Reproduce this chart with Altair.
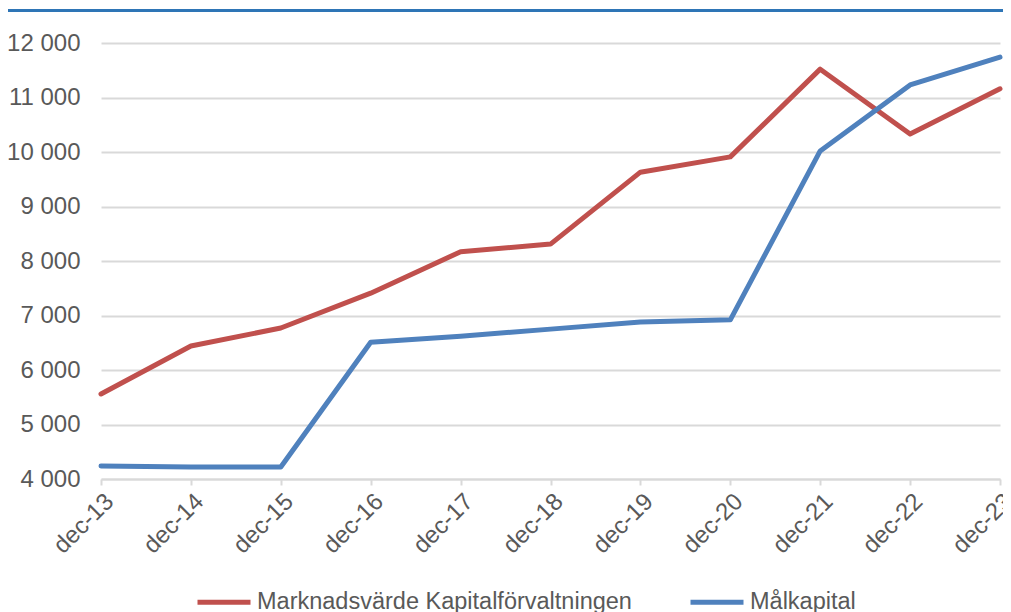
import altair as alt
import pandas as pd

years = ["dec-13", "dec-14", "dec-15", "dec-16", "dec-17", "dec-18",
         "dec-19", "dec-20", "dec-21", "dec-22", "dec-23"]
marknadsvarde = [5560, 6440, 6770, 7410, 8170, 8310, 9630, 9910, 11520, 10330, 11160]
malkapital = [4240, 4220, 4220, 6510, 6620, 6750, 6880, 6920, 10020, 11230, 11740]
series_names = ["Marknadsvärde Kapitalförvaltningen", "Målkapital"]
series_colors = ["#C0504D", "#4F81BD"]
y_ticks = [4000, 5000, 6000, 7000, 8000, 9000, 10000, 11000, 12000]

rows = []
for name, vals in zip(series_names, [marknadsvarde, malkapital]):
    for yr, v in zip(years, vals):
        rows.append({"period": yr, "value": v, "serie": name})
df = pd.DataFrame(rows)

FONT = "Liberation Sans"
GRAY = "#595959"

lines = alt.Chart(df).mark_line(strokeWidth=5, strokeCap="round", strokeJoin="round").encode(
    x=alt.X("period:O", sort=years, scale=alt.Scale(type="point", padding=0),
            axis=alt.Axis(title=None, labelAngle=-45, labelFontSize=24, labelColor=GRAY,
                          labelFont=FONT, domainColor="#D9D9D9", domainWidth=2,
                          tickColor="#D9D9D9", tickWidth=2, tickSize=6, labelPadding=4,
                          grid=False)),
    y=alt.Y("value:Q", scale=alt.Scale(domain=[4000, 12000], nice=False, zero=False),
            axis=alt.Axis(title=None, values=y_ticks, labelFontSize=24, labelColor=GRAY,
                          labelFont=FONT, domain=False, ticks=False, labelPadding=21,
                          gridColor="#D9D9D9", gridWidth=2,
                          labelExpr="replace(format(datum.value, ','), ',', ' ')")),
    color=alt.Color("serie:N", sort=series_names,
                    scale=alt.Scale(domain=series_names, range=series_colors),
                    legend=alt.Legend(title=None, orient="none", direction="horizontal",
                                      legendX=94, legendY=530, symbolType="stroke",
                                      symbolSize=2809, symbolStrokeWidth=5,
                                      labelFontSize=23.5, labelColor=GRAY, labelFont=FONT,
                                      columnPadding=48, labelOffset=4, labelLimit=600)),
)

top_rule = alt.Chart(alt.Data(values=[{}])).mark_rule(color="#2E75B6", strokeWidth=3).encode(
    x=alt.value(-93), x2=alt.value(902), y=alt.value(-32.5)
)

chart = alt.layer(top_rule, lines).properties(
    width=899, height=436,
    padding={"left": 93, "top": 35, "right": 3, "bottom": 133},
    autosize=alt.AutoSizeParams(type="none"),
    background="white",
).configure_view(stroke=None)

chart.save("out.html", embed_options={"renderer": "svg", "actions": False})
